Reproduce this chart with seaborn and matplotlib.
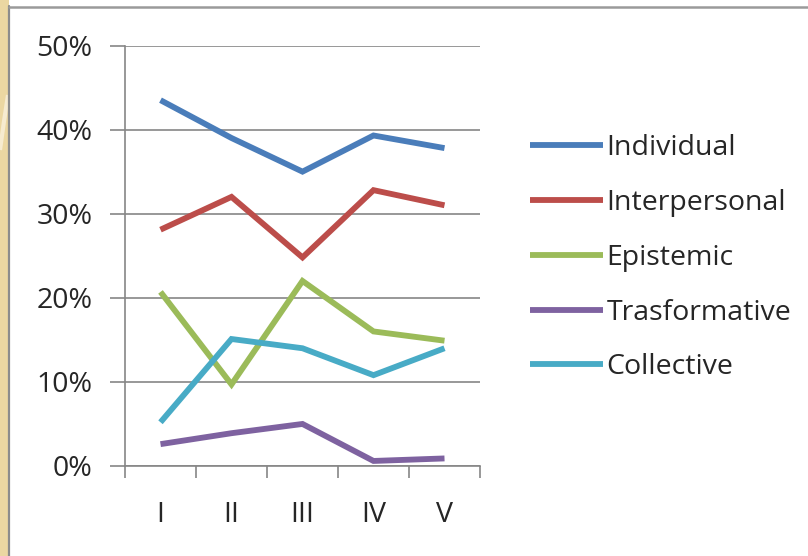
import numpy as np
import pandas as pd
import seaborn as sns
import matplotlib
matplotlib.use("Agg")
import matplotlib.pyplot as plt
from matplotlib.patches import Rectangle, PathPatch
from matplotlib.path import Path
from matplotlib.lines import Line2D
from matplotlib.ticker import FixedLocator, PercentFormatter

# Share of each dimension (percent) across the five phases
phases = ["I", "II", "III", "IV", "V"]
individual = [43.5, 39.0, 35.0, 39.3, 37.8]
interpersonal = [28.1, 32.0, 24.8, 32.8, 31.0]
epistemic = [20.7, 9.7, 22.0, 16.0, 14.9]
trasformative = [2.6, 3.9, 5.0, 0.6, 0.9]
collective = [5.2, 15.1, 14.0, 10.8, 14.0]

series_names = ["Individual", "Interpersonal", "Epistemic", "Trasformative", "Collective"]
series_values = [individual, interpersonal, epistemic, trasformative, collective]
series_colors = ["#4A7DBA", "#BC4D4A", "#9BBB59", "#7E62A0", "#48ABC6"]

y_ticks = [0, 10, 20, 30, 40, 50]

df = pd.DataFrame(
    [(name, ph, v) for name, vals in zip(series_names, series_values)
     for ph, v in zip(phases, vals)],
    columns=["series", "phase", "share"],
)

sns.set_theme(style="white")
plt.rcParams["font.family"] = ["Open Sans", "DejaVu Sans"]

TEXT = "#262626"
GRID = "#868686"
LW = 4.2

W, H = 808, 556
fig = plt.figure(figsize=(W / 100, H / 100), dpi=100)
fig.patch.set_facecolor("white")

# slide background strip on the left with its frame
fig.patches.append(Rectangle((0, 0), 8.5 / W, 1, transform=fig.transFigure,
                             facecolor="#EBD7A2", edgecolor="none", zorder=0))
swoosh = Path([(0, 1 - 150 / H), (4 / W, 1 - 120 / H), (8 / W, 1 - 95 / H)],
              [Path.MOVETO, Path.CURVE3, Path.CURVE3])
fig.patches.append(PathPatch(swoosh, transform=fig.transFigure, facecolor="none",
                             edgecolor="#F6EBD0", lw=3, zorder=1))
fig.lines.append(Line2D([9 / W, 9 / W], [0, 1 - 6 / H], transform=fig.transFigure,
                        color="#8C8C8C", lw=1.6, zorder=2))
fig.lines.append(Line2D([9 / W, 1], [1 - 7 / H, 1 - 7 / H], transform=fig.transFigure,
                        color="#9A9A9A", lw=1.8, zorder=2))

ax = fig.add_axes([125 / W, 90 / H, 355 / W, 420.5 / H])
ax.set_facecolor("none")

sns.lineplot(data=df, x="phase", y="share", hue="series", hue_order=series_names,
             palette=series_colors, linewidth=LW, sort=False, ax=ax, legend=True,
             zorder=3)
for ln in ax.lines:
    ln.set_solid_joinstyle("miter")
    ln.set_solid_capstyle("butt")

ax.set_xlim(-0.5, len(phases) - 0.5)
ax.set_ylim(0, 50)
ax.set_xlabel("")
ax.set_ylabel("")

ax.yaxis.set_major_locator(FixedLocator(y_ticks))
ax.yaxis.set_major_formatter(PercentFormatter(decimals=0))
ax.grid(axis="y", color=GRID, lw=1.2, zorder=1)
ax.set_axisbelow(True)

ax.set_xticks(range(len(phases)))
ax.set_xticklabels(phases)
ax.set_xticks(np.arange(-0.5, len(phases)), minor=True)

for side in ["top", "right"]:
    ax.spines[side].set_visible(False)
for side in ["left", "bottom"]:
    ax.spines[side].set_color(GRID)
    ax.spines[side].set_linewidth(1.2)

ax.tick_params(axis="y", which="major", direction="out", length=10.5, width=1.2,
               color=GRID, pad=13, labelsize=20.5, labelcolor=TEXT, left=True)
ax.tick_params(axis="x", which="major", length=0, pad=25, labelsize=20.5,
               labelcolor=TEXT)
ax.tick_params(axis="x", which="minor", direction="out", length=8.5, width=1.2,
               color=GRID, bottom=True)

handles, labels = ax.get_legend_handles_labels()
for h in handles:
    h.set_linewidth(LW)
ax.legend(handles, labels, loc="upper left", bbox_to_anchor=(516 / W, 1 - 120 / H),
          bbox_transform=fig.transFigure, frameon=False, fontsize=20.5,
          handlelength=2.55, handletextpad=0.12, labelspacing=0.94, borderpad=0,
          labelcolor=TEXT)

fig.savefig("out.png", dpi=100)
